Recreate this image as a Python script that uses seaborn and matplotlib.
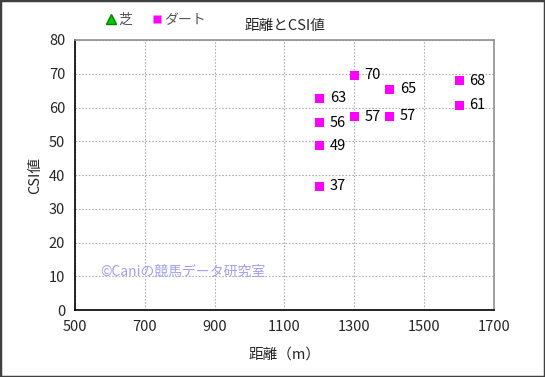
import pandas as pd
import seaborn as sns
import matplotlib.pyplot as plt
from matplotlib.lines import Line2D
from matplotlib.patches import Rectangle

# data (ダート only, 芝 has no points)
distance = [1200, 1200, 1200, 1200, 1300, 1300, 1400, 1400, 1600, 1600]
csi = [62.8, 55.5, 48.7, 36.7, 69.6, 57.3, 65.4, 57.4, 67.9, 60.6]
surface = ['ダート'] * len(distance)

x_ticks = [500, 700, 900, 1100, 1300, 1500, 1700]
y_ticks = list(range(0, 81, 10))

df = pd.DataFrame({'distance': distance, 'csi': csi, 'surface': surface})

sns.set_style('white')
plt.rcParams['font.family'] = ['Noto Sans CJK JP', 'DejaVu Sans']
plt.rcParams['font.size'] = 10

fig = plt.figure(figsize=(5.45, 3.77), dpi=100)
ax = fig.add_axes([0.1376, 0.1777, 0.7688, 0.7162])

sns.scatterplot(data=df, x='distance', y='csi', ax=ax, marker='s', color='#ff00ff',
                s=42, edgecolor='none', legend=False, zorder=3)

for xv, yv in zip(df['distance'], df['csi']):
    ax.annotate(f'{yv:.0f}', (xv, yv), xytext=(7.5, 0), textcoords='offset points',
                va='center', ha='left', fontsize=10.5, color='black')

ax.set_xlim(500, 1700)
ax.set_ylim(0, 80)
ax.set_xticks(x_ticks)
ax.set_yticks(y_ticks)
ax.grid(True, color='#b0b0b0', linestyle=(0, (1.5, 1.5)), linewidth=0.8)
ax.set_axisbelow(True)
ax.tick_params(length=0, pad=7, labelsize=10.5)
ax.set_xlabel('距離（m）', fontsize=10.5, labelpad=10)
ax.set_ylabel('CSI値', fontsize=10.5, labelpad=5)
for side in ['left', 'bottom']:
    ax.spines[side].set_color('black')
    ax.spines[side].set_linewidth(1.2)
for side in ['top', 'right']:
    ax.spines[side].set_color('#909090')
    ax.spines[side].set_linewidth(1.2)

fig.text(0.523, 0.930, '距離とCSI値', ha='center', va='center', fontsize=10.5)
ax.text(0.06, 0.142, '©Caniの競馬データ研究室', transform=ax.transAxes,
        color='#a0a0f0', fontsize=10, va='center', ha='left')

handles = [Line2D([], [], marker='^', color='none', markerfacecolor='#00cc00',
                  markeredgecolor='#008000', markersize=7, label='芝'),
           Line2D([], [], marker='s', color='none', markerfacecolor='#ff00ff',
                  markeredgecolor='none', markersize=6, label='ダート')]
fig.legend(handles=handles, loc='center left', bbox_to_anchor=(0.168, 0.948), ncol=2,
           frameon=False, handletextpad=0.0, columnspacing=1.3, fontsize=10,
           labelcolor='#555555', handlelength=1.0)

fig.patches.append(Rectangle((0, 0), 1, 1, transform=fig.transFigure, fill=False,
                             edgecolor='#404040', linewidth=2.5))

fig.savefig('out.png', dpi=100)
